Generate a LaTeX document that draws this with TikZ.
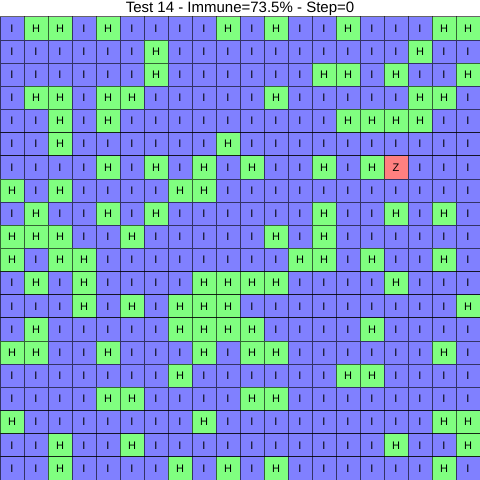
\documentclass[tikz,border=0pt]{standalone}
\usepackage{fontspec}
\setmainfont{Liberation Sans}
\definecolor{immuneblue}{RGB}{128,128,255}
\definecolor{healthygreen}{RGB}{128,255,128}
\definecolor{zombiered}{RGB}{255,128,128}
\tikzset{
    cell/.style={draw=black, draw opacity=0.6, line width=0.8pt, minimum width=24pt, minimum height=23.16pt,
        inner sep=0pt, font=\fontsize{11}{13}\selectfont},
    cellI/.style={cell, fill=immuneblue},
    cellH/.style={cell, fill=healthygreen},
    cellZ/.style={cell, fill=zombiered},
}
\begin{document}
\begin{tikzpicture}[x=1pt, y=1pt]
    \fill[white] (0,0) rectangle (480,-480);
    \useasboundingbox (0,0) rectangle (480,-480);
    \node[font=\fontsize{15}{17}\selectfont] (title) at (240,-8.4) {Test 14 - Immune=73.5\% - Step=0};
    % grid of cells, row by row from the top
    \foreach \row [count=\r from 0] in {
        {I,H,H,I,H,I,I,I,I,H,I,H,I,I,H,I,I,I,H,H},
        {I,I,I,I,I,I,H,I,I,I,I,I,I,I,I,I,I,H,I,I},
        {I,I,I,I,I,I,H,I,I,I,I,I,I,H,H,I,H,I,I,H},
        {I,H,H,I,H,H,I,I,I,I,I,H,I,I,I,I,I,H,H,I},
        {I,I,H,I,H,I,I,I,I,I,I,I,I,I,H,H,H,H,I,I},
        {I,I,H,I,I,I,I,I,I,H,I,I,I,I,I,I,I,I,I,I},
        {I,I,I,I,H,I,H,I,H,I,H,I,I,H,I,H,Z,I,I,I},
        {H,I,H,I,I,I,I,H,H,I,I,I,I,I,I,I,I,I,I,I},
        {I,H,I,I,H,I,H,I,I,I,I,I,I,H,I,I,H,I,H,I},
        {H,H,H,I,I,H,I,I,I,I,I,H,I,H,I,I,I,I,I,I},
        {H,I,H,H,I,I,I,I,I,I,I,I,H,H,I,H,I,I,H,I},
        {I,H,I,H,I,I,I,I,H,H,H,H,I,I,I,I,H,I,I,I},
        {I,I,I,H,I,H,I,H,H,H,I,I,I,I,I,I,I,I,I,H},
        {I,H,I,I,I,I,I,H,H,H,H,I,I,I,I,H,I,I,I,I},
        {H,H,I,I,H,I,I,I,H,I,H,H,I,I,I,I,I,I,H,I},
        {I,I,I,I,I,I,I,H,I,I,I,I,I,I,H,H,I,I,I,I},
        {I,I,I,I,H,H,I,I,I,I,H,H,I,I,I,I,I,I,I,I},
        {H,I,I,I,I,I,I,I,H,I,I,I,I,I,I,I,I,I,H,H},
        {I,I,H,I,I,H,I,I,I,I,I,I,I,I,I,I,H,I,I,H},
        {I,I,H,I,I,I,I,H,I,H,I,H,I,I,I,I,I,I,H,I}}{
        \foreach \s [count=\c from 0] in \row{
            \node[cell\s] (c\r-\c) at ({\c*24+12},{-(16.8+\r*23.16+11.58)}) {\s};
        }
    }
\end{tikzpicture}
\end{document}
